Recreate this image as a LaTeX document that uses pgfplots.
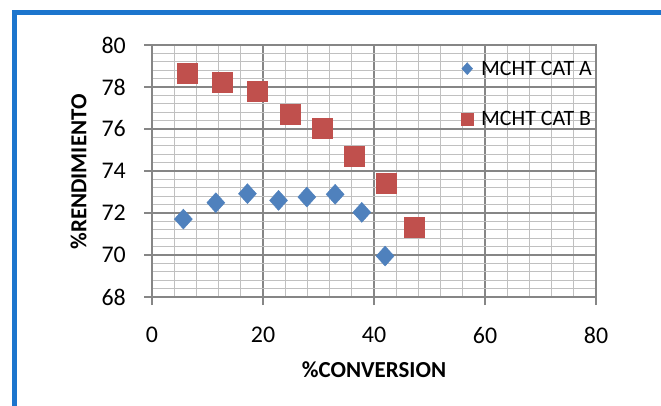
\documentclass[border=0pt]{standalone}
\usepackage{fontspec}
\setmainfont{Carlito}
\usepackage{pgfplots}
\pgfplotsset{compat=1.18}
\definecolor{frameblue}{RGB}{28,117,205}
\definecolor{serA}{RGB}{79,129,189}
\definecolor{serB}{RGB}{192,80,77}
\definecolor{majgrid}{RGB}{134,134,134}
\definecolor{mingrid}{RGB}{192,192,192}
\begin{document}
\begin{tikzpicture}[x=1bp,y=1bp]
\useasboundingbox (0,0) rectangle (661,405);
\fill[white] (0,0) rectangle (661,405);
\draw[frameblue, line width=5bp] (14.5,-30) -- (14.5,392.5) -- (700,392.5);
\begin{axis}[
  scale only axis, width=444bp, height=252bp,
  at={(152bp,108bp)}, anchor=south west,
  xmin=0, xmax=80, ymin=68, ymax=80,
  xtick={0,20,...,80}, ytick={68,70,...,80},
  minor x tick num=4, minor y tick num=4,
  grid=both,
  major grid style={draw=majgrid, line width=1.2bp},
  minor grid style={draw=mingrid, line width=1.2bp},
  axis line style={draw=majgrid, line width=1.2bp},
  tick pos=left, tick align=outside,
  major tick length=8bp, minor tick length=0pt,
  tick style={draw=majgrid, line width=1.2bp},
  /pgf/number format/assume math mode=true,
  ticklabel style={font=\fontsize{24}{26}\selectfont, inner sep=0pt},
  yticklabel style={anchor=east},
  xticklabel style={anchor=north},
  yticklabel shift=18bp,
  xticklabel shift=22bp,
  xlabel={\%CONVERSION},
  ylabel={\%RENDIMIENTO},
  xlabel style={font=\fontsize{23}{25}\selectfont\bfseries, at={(axis description cs:0.5,-0.3175)}, anchor=base},
  ylabel style={font=\fontsize{23}{25}\selectfont\bfseries, at={(axis description cs:-0.1655,0.496)}, anchor=center},
  legend image code/.code={\draw[#1, mark size=6bp] plot coordinates {(0cm,0cm)};},
  legend cell align=left,
  legend style={draw=none, fill=none, inner sep=0pt, row sep=35bp,
    font=\fontsize{22}{24}\selectfont,
    nodes={inner sep=0pt},
    /tikz/every odd column/.append style={column sep=8bp},
    at={(axis description cs:0.696,0.938)}, anchor=north west},
]
\addplot[only marks, mark=diamond*, mark size=10bp, color=serA, mark options={xscale=1.2}]
  coordinates {(5.65,71.71) (11.5,72.49) (17.2,72.92) (22.8,72.60) (27.9,72.76) (33.0,72.89) (37.8,72.03) (42.0,69.95)};
\addlegendentry{MCHT CAT A}
\addplot[only marks, mark=square*, mark size=10bp, color=serB]
  coordinates {(6.4,78.65) (12.7,78.25) (19.0,77.78) (24.9,76.70) (30.7,76.06) (36.4,74.71) (42.2,73.41) (47.3,71.32)};
\addlegendentry{MCHT CAT B}
\end{axis}
\end{tikzpicture}
\end{document}
